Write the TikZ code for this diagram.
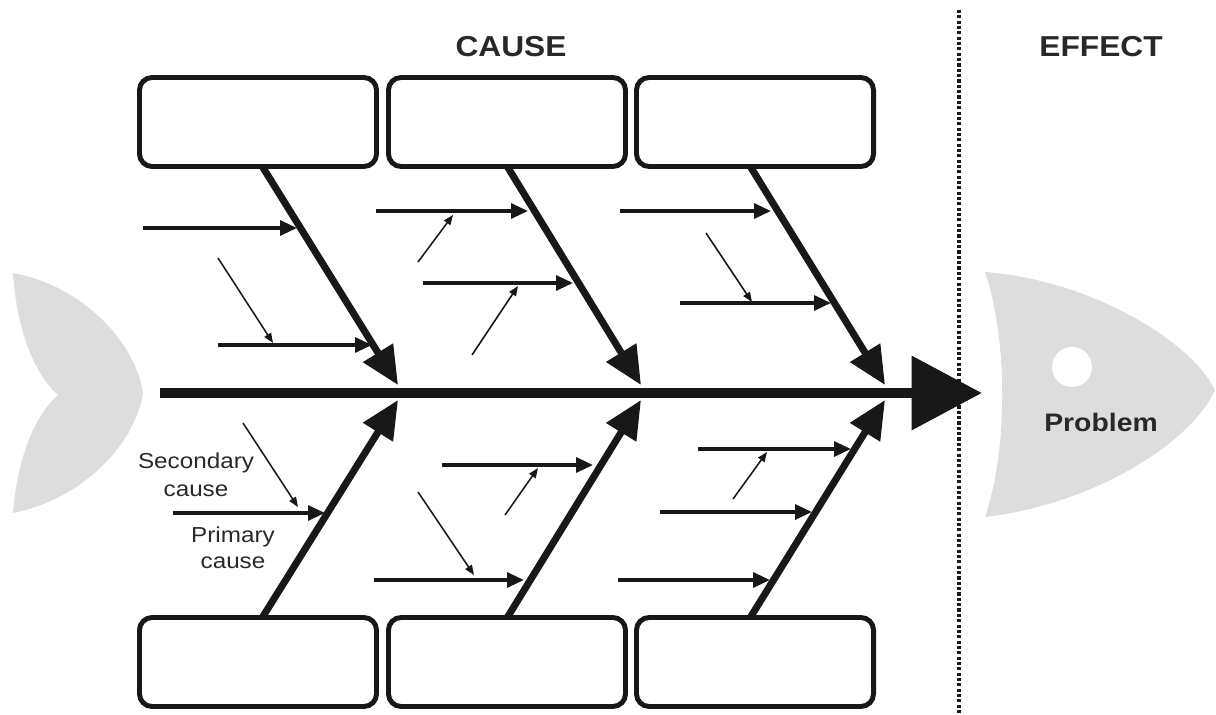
\documentclass[tikz,border=0pt]{standalone}
\usepackage{fontspec}
\usepackage{graphicx}
\setmainfont{Liberation Sans}
\usetikzlibrary{arrows.meta}
\definecolor{fishgray}{RGB}{221,221,221}
\definecolor{ink}{RGB}{24,24,24}
\definecolor{txt}{RGB}{40,40,40}
\begin{document}
\begin{tikzpicture}[x=0.025cm,y=-0.025cm,
  bone/.style={draw=ink, line width=5pt, -{Triangle[length=27pt,width=24pt]}},
  prim/.style={draw=ink, line width=2.5pt, -{Triangle[length=12pt,width=10.5pt]}},
  sec/.style={draw=ink, line width=1.1pt, -{Triangle[length=7pt,width=5.5pt]}},
  causebox/.style={draw=ink, line width=3.5pt, rounded corners=9pt, fill=white,
    minimum width=5.925cm, minimum height=2.225cm, inner sep=0pt},
  lbl/.style={text=txt, font=\fontsize{15.4pt}{18pt}\selectfont, inner sep=0pt, anchor=base},
  titletext/.style={text=txt, font=\fontsize{20.5pt}{24pt}\selectfont\bfseries, inner sep=0pt}]

\useasboundingbox (0,0) rectangle (1216,715);

% fish tail
\fill[fishgray] (13,273) .. controls (80,285) and (135,340) .. (143,393)
  .. controls (135,446) and (80,500) .. (13,513)
  .. controls (16,470) and (30,420) .. (58,395)
  .. controls (30,370) and (16,320) .. (13,273) -- cycle;

% fish head
\fill[fishgray] (985,272) .. controls (1090,280) and (1190,340) .. (1215,390)
  .. controls (1190,445) and (1090,505) .. (985,517)
  .. controls (1008,450) and (1008,340) .. (985,272) -- cycle;
\node[circle, fill=white, minimum size=1cm, inner sep=0pt] (eye) at (1072,367) {};
\node[text=txt, font=\fontsize{18pt}{21pt}\selectfont\bfseries, inner sep=0pt] (prob) at (1101,422) {\scalebox{1.12}[1]{Problem}};

% titles
\node[titletext] (cause) at (511,47) {\scalebox{1.1}[1]{CAUSE}};
\node[titletext] (effect) at (1101,47) {\scalebox{1.1}[1]{EFFECT}};

% dotted divider
\coordinate (dt) at (959,10);
\coordinate (db) at (959,715);
\draw[ink, line width=2.2pt, dash pattern=on 2.2pt off 1.6pt] (dt) -- (db);

% spine
\coordinate (sp0) at (160,393);
\coordinate (sp1) at (982,393);
\draw[ink, line width=7.8pt, -{Triangle[length=50pt,width=51pt]}] (sp0) -- (sp1);

% bone coordinates
\coordinate (t1s) at (262,166); \coordinate (t1e) at (398,385);
\coordinate (t2s) at (507,166); \coordinate (t2e) at (641,385);
\coordinate (t3s) at (750,166); \coordinate (t3e) at (885,385);
\coordinate (b1s) at (262,618); \coordinate (b1e) at (398,400);
\coordinate (b2s) at (507,618); \coordinate (b2e) at (641,400);
\coordinate (b3s) at (750,618); \coordinate (b3e) at (885,400);
\foreach \n in {t1,t2,t3,b1,b2,b3} { \draw[bone] (\n s) -- (\n e); }

% boxes
\node[causebox] (tb1) at (258,122) {};
\node[causebox] (tb2) at (507,122) {};
\node[causebox] (tb3) at (755,122) {};
\node[causebox] (bb1) at (258,662) {};
\node[causebox] (bb2) at (507,662) {};
\node[causebox] (bb3) at (755,662) {};

% primary causes
\coordinate (p1a) at (143,228); \coordinate (p1b) at (297,228);
\coordinate (p2a) at (218,345); \coordinate (p2b) at (372,345);
\coordinate (p3a) at (376,211); \coordinate (p3b) at (528,211);
\coordinate (p4a) at (423,283); \coordinate (p4b) at (573,283);
\coordinate (p5a) at (620,211); \coordinate (p5b) at (771,211);
\coordinate (p6a) at (680,303); \coordinate (p6b) at (831,303);
\coordinate (p7a) at (173,513); \coordinate (p7b) at (325,513);
\coordinate (p8a) at (442,465); \coordinate (p8b) at (593,465);
\coordinate (p9a) at (374,580); \coordinate (p9b) at (524,580);
\coordinate (p10a) at (698,449); \coordinate (p10b) at (851,449);
\coordinate (p11a) at (660,512); \coordinate (p11b) at (812,512);
\coordinate (p12a) at (618,580); \coordinate (p12b) at (770,580);
\foreach \i in {1,...,12} { \draw[prim] (p\i a) -- (p\i b); }

% secondary causes
\coordinate (s1a) at (218,258); \coordinate (s1b) at (273,343);
\coordinate (s2a) at (418,262); \coordinate (s2b) at (453,215);
\coordinate (s3a) at (472,355); \coordinate (s3b) at (518,286);
\coordinate (s4a) at (706,233); \coordinate (s4b) at (752,302);
\coordinate (s5a) at (243,423); \coordinate (s5b) at (298,507);
\coordinate (s6a) at (505,515); \coordinate (s6b) at (538,468);
\coordinate (s7a) at (418,492); \coordinate (s7b) at (474,575);
\coordinate (s8a) at (733,499); \coordinate (s8b) at (767,452);
\foreach \i in {1,...,8} { \draw[sec] (s\i a) -- (s\i b); }

% labels
\node[lbl] (secl1) at (196,468) {\scalebox{1.12}[1]{Secondary}};
\node[lbl] (secl2) at (196,496) {\scalebox{1.12}[1]{cause}};
\node[lbl] (priml1) at (233,542) {\scalebox{1.12}[1]{Primary}};
\node[lbl] (priml2) at (233,568) {\scalebox{1.12}[1]{cause}};
\end{tikzpicture}
\end{document}
